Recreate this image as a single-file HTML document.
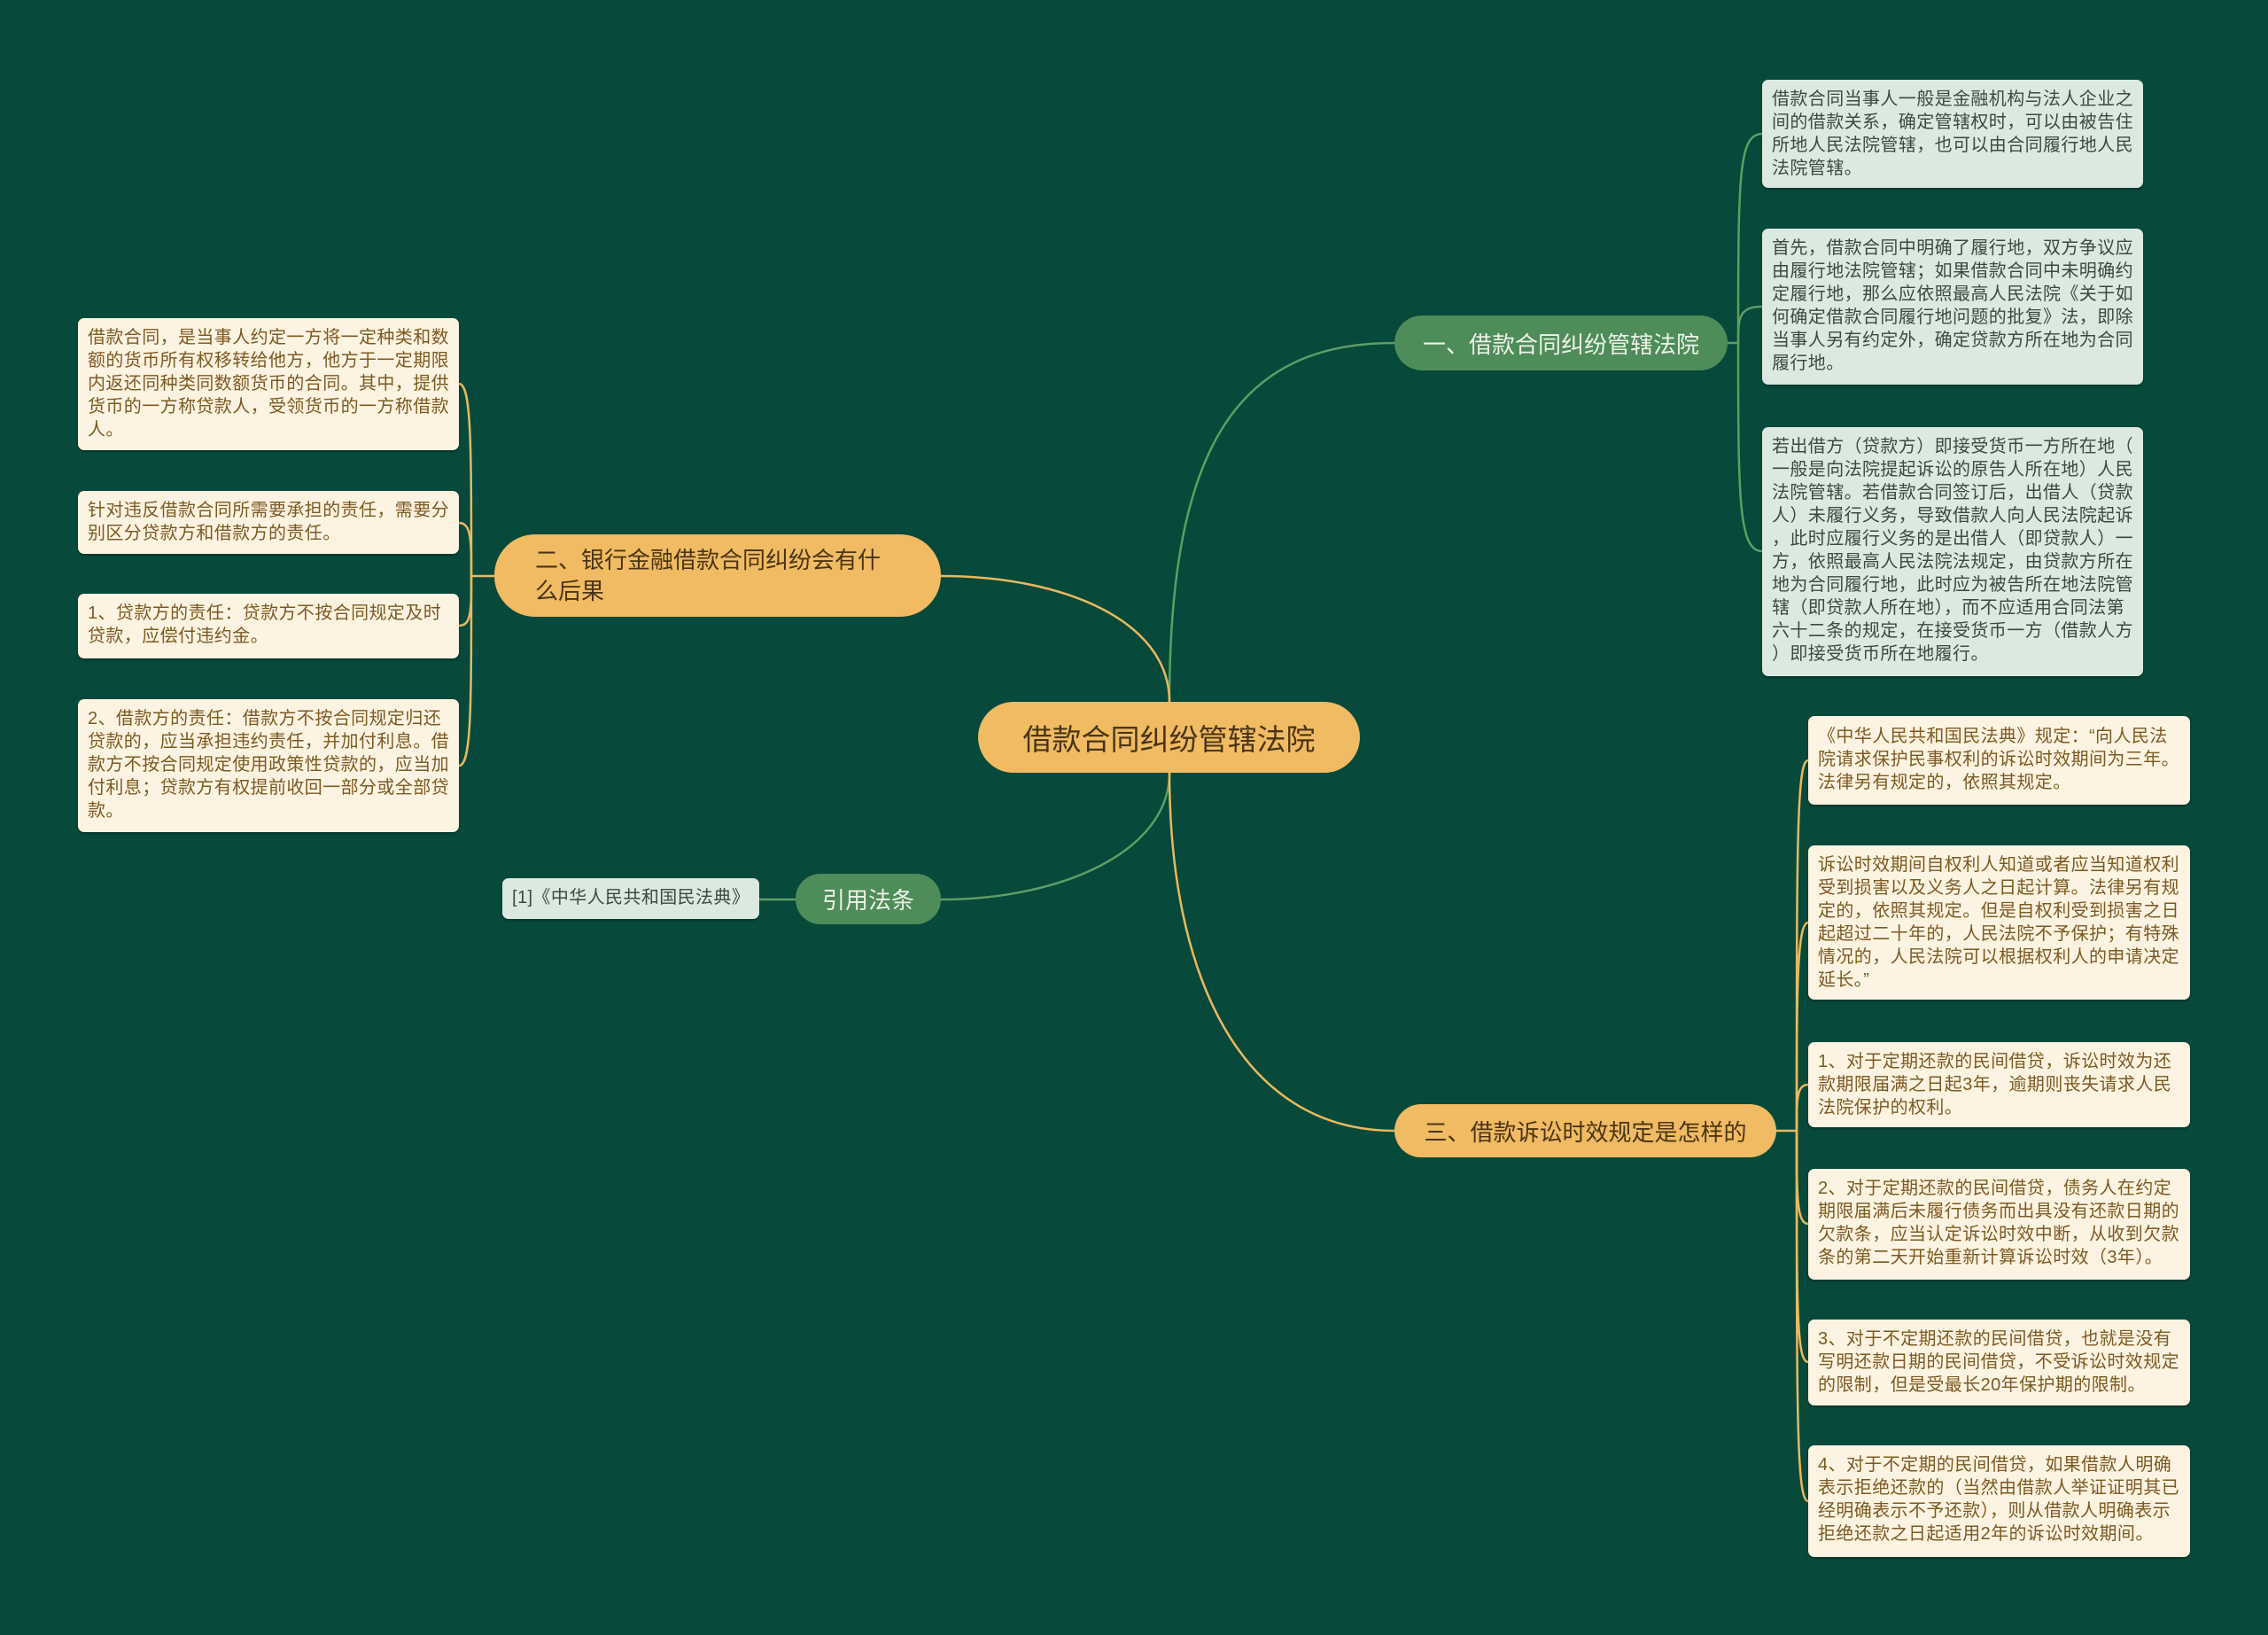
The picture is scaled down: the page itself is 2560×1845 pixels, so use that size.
<!DOCTYPE html>
<html><head><meta charset="utf-8"><style>
html,body{margin:0;padding:0}
body{width:2560px;height:1845px;background:#07493a;position:relative;overflow:hidden;font-family:"Liberation Sans","Noto Sans CJK SC",sans-serif}
.b{position:absolute;box-sizing:border-box;border-radius:7px;font-size:20px;letter-spacing:0.4px;line-height:26px;padding:9px 11px;white-space:nowrap;box-shadow:0 2px 2px rgba(0,0,0,.25)}
.g{background:#dce9e0;color:#3a4a42}
.y{background:#fdf3e2;color:#7d5a22}
.n{position:absolute;box-sizing:border-box;display:flex;align-items:center;justify-content:center;text-align:left;white-space:nowrap}
svg{position:absolute;left:0;top:0}
</style></head><body>
<svg width="2560" height="1845" fill="none" stroke-width="2.5">
<path d="M1320 792 C1320 500 1400 387 1574 387" stroke="#5e9e66"/>
<path d="M1320 792 C1320 700 1200 650 1062 650" stroke="#e9b95f"/>
<path d="M1320 872 C1320 960 1200 1015 1062 1015" stroke="#5e9e66"/>
<path d="M1320 872 C1320 1100 1400 1276 1574 1276" stroke="#e9b95f"/>
<g stroke="#5e9e66">
<path d="M1950 387 L1962 387"/>
<path d="M1962 387 C1962 200 1962 151 1989 151"/>
<path d="M1962 387 C1962 360 1962 346 1989 346"/>
<path d="M1962 387 C1962 560 1962 622 1989 622"/>
<path d="M857 1015 L898 1015"/>
</g>
<g stroke="#e9b95f">
<path d="M558 650 L532 650"/>
<path d="M532 650 C532 500 532 433 518 433"/>
<path d="M532 650 C532 610 532 590 518 590"/>
<path d="M532 650 C532 690 532 706 518 706"/>
<path d="M532 650 C532 800 532 864 518 864"/>
<path d="M2005 1276 L2028 1276"/>
<path d="M2028 1276 C2028 950 2028 858 2041 858"/>
<path d="M2028 1276 C2028 1120 2028 1041 2041 1041"/>
<path d="M2028 1276 C2028 1240 2028 1224 2041 1224"/>
<path d="M2028 1276 C2028 1350 2028 1381 2041 1381"/>
<path d="M2028 1276 C2028 1480 2028 1537 2041 1537"/>
<path d="M2028 1276 C2028 1600 2028 1694 2041 1694"/>
</g>
</svg>

<div class="n" style="left:1104px;top:792px;width:431px;height:80px;border-radius:40px;background:#f0bb62;color:#4a3415;font-size:33px">借款合同纠纷管辖法院</div>
<div class="n" style="left:1574px;top:356px;width:376px;height:62px;border-radius:31px;background:#4e8c5a;color:#eef3e8;font-size:26px">一、借款合同纠纷管辖法院</div>
<div class="n" style="left:558px;top:603px;width:504px;height:93px;border-radius:46px;background:#f0bb62;color:#4a3415;font-size:26px;justify-content:flex-start;padding-left:46px;line-height:35px">二、银行金融借款合同纠纷会有什<br>么后果</div>
<div class="n" style="left:898px;top:986px;width:164px;height:57px;border-radius:28px;background:#4e8c5a;color:#eef3e8;font-size:26px">引用法条</div>
<div class="n" style="left:1574px;top:1246px;width:431px;height:60px;border-radius:30px;background:#f0bb62;color:#4a3415;font-size:26px">三、借款诉讼时效规定是怎样的</div>

<div class="b g" style="left:1989px;top:90px;width:430px;height:122px">借款合同当事人一般是金融机构与法人企业之<br>间的借款关系，确定管辖权时，可以由被告住<br>所地人民法院管辖，也可以由合同履行地人民<br>法院管辖。</div>
<div class="b g" style="left:1989px;top:258px;width:430px;height:176px">首先，借款合同中明确了履行地，双方争议应<br>由履行地法院管辖；如果借款合同中未明确约<br>定履行地，那么应依照最高人民法院《关于如<br>何确定借款合同履行地问题的批复》法，即除<br>当事人另有约定外，确定贷款方所在地为合同<br>履行地。</div>
<div class="b g" style="left:1989px;top:482px;width:430px;height:281px">若出借方（贷款方）即接受货币一方所在地（<br>一般是向法院提起诉讼的原告人所在地）人民<br>法院管辖。若借款合同签订后，出借人（贷款<br>人）未履行义务，导致借款人向人民法院起诉<br>，此时应履行义务的是出借人（即贷款人）一<br>方，依照最高人民法院法规定，由贷款方所在<br>地为合同履行地，此时应为被告所在地法院管<br>辖（即贷款人所在地），而不应适用合同法第<br>六十二条的规定，在接受货币一方（借款人方<br>）即接受货币所在地履行。</div>

<div class="b y" style="left:88px;top:359px;width:430px;height:149px">借款合同，是当事人约定一方将一定种类和数<br>额的货币所有权移转给他方，他方于一定期限<br>内返还同种类同数额货币的合同。其中，提供<br>货币的一方称贷款人，受领货币的一方称借款<br>人。</div>
<div class="b y" style="left:88px;top:554px;width:430px;height:71px">针对违反借款合同所需要承担的责任，需要分<br>别区分贷款方和借款方的责任。</div>
<div class="b y" style="left:88px;top:670px;width:430px;height:73px">1、贷款方的责任：贷款方不按合同规定及时<br>贷款，应偿付违约金。</div>
<div class="b y" style="left:88px;top:789px;width:430px;height:150px">2、借款方的责任：借款方不按合同规定归还<br>贷款的，应当承担违约责任，并加付利息。借<br>款方不按合同规定使用政策性贷款的，应当加<br>付利息；贷款方有权提前收回一部分或全部贷<br>款。</div>
<div class="b g" style="left:567px;top:991px;width:290px;height:46px;padding:9px 11px">[1]《中华人民共和国民法典》</div>

<div class="b y" style="left:2041px;top:808px;width:431px;height:100px;padding-top:10px">《中华人民共和国民法典》规定：“向人民法<br>院请求保护民事权利的诉讼时效期间为三年。<br>法律另有规定的，依照其规定。</div>
<div class="b y" style="left:2041px;top:954px;width:431px;height:174px">诉讼时效期间自权利人知道或者应当知道权利<br>受到损害以及义务人之日起计算。法律另有规<br>定的，依照其规定。但是自权利受到损害之日<br>起超过二十年的，人民法院不予保护；有特殊<br>情况的，人民法院可以根据权利人的申请决定<br>延长。”</div>
<div class="b y" style="left:2041px;top:1176px;width:431px;height:96px">1、对于定期还款的民间借贷，诉讼时效为还<br>款期限届满之日起3年，逾期则丧失请求人民<br>法院保护的权利。</div>
<div class="b y" style="left:2041px;top:1319px;width:431px;height:125px">2、对于定期还款的民间借贷，债务人在约定<br>期限届满后未履行债务而出具没有还款日期的<br>欠款条，应当认定诉讼时效中断，从收到欠款<br>条的第二天开始重新计算诉讼时效（3年）。</div>
<div class="b y" style="left:2041px;top:1489px;width:431px;height:97px">3、对于不定期还款的民间借贷，也就是没有<br>写明还款日期的民间借贷，不受诉讼时效规定<br>的限制，但是受最长20年保护期的限制。</div>
<div class="b y" style="left:2041px;top:1631px;width:431px;height:126px">4、对于不定期的民间借贷，如果借款人明确<br>表示拒绝还款的（当然由借款人举证证明其已<br>经明确表示不予还款），则从借款人明确表示<br>拒绝还款之日起适用2年的诉讼时效期间。</div>
</body></html>
